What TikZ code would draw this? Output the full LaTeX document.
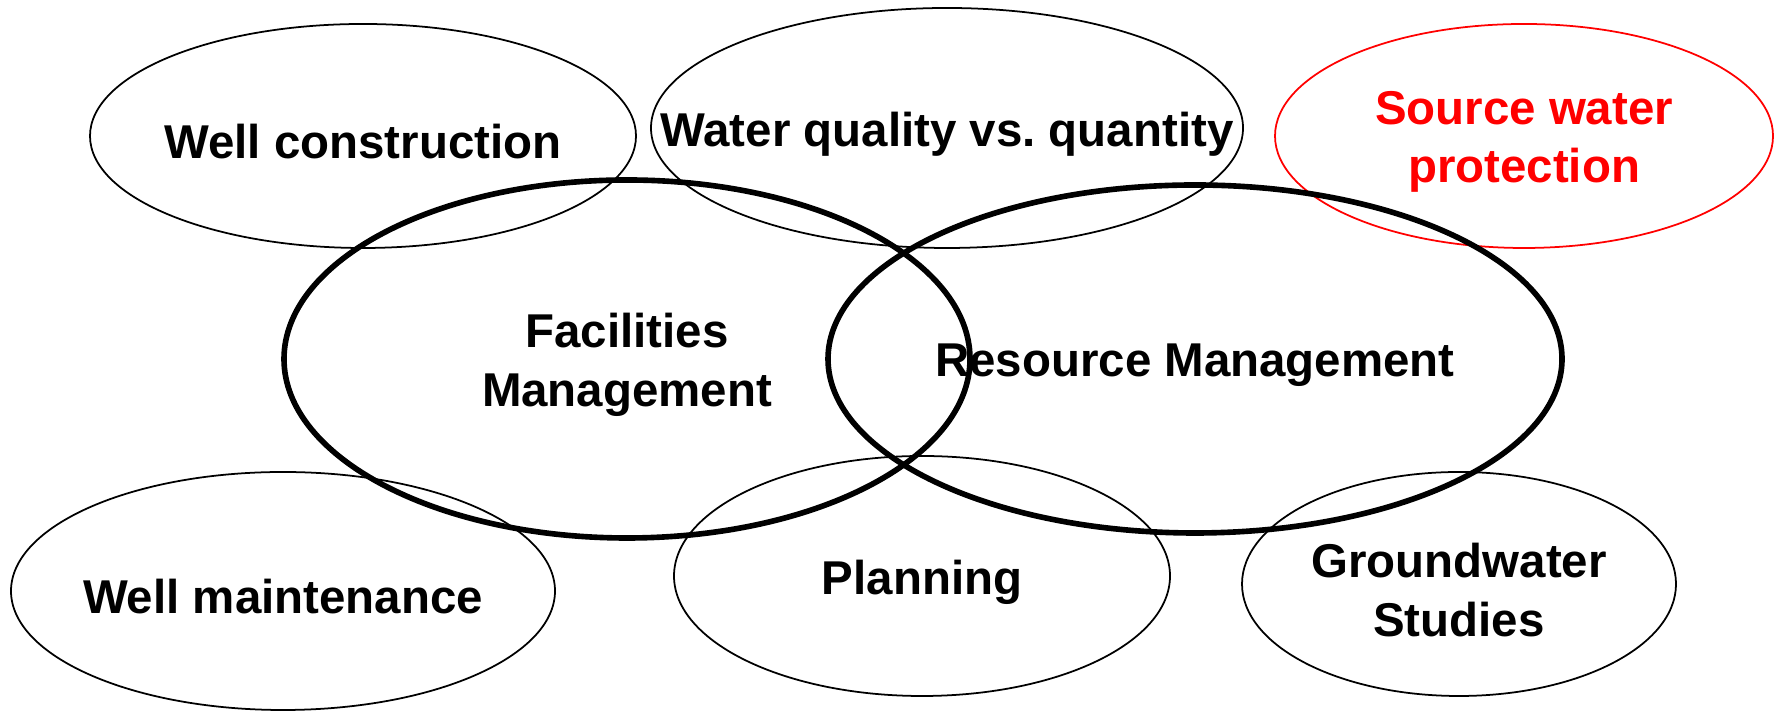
\documentclass[tikz,border=0pt]{standalone}
\usepackage{fontspec}
\setmainfont{Liberation Sans}
\usetikzlibrary{shapes.geometric}

\begin{document}
\begin{tikzpicture}[
        topic/.style={
          ellipse,
          draw,
          line width=0.5pt,
          inner sep=0pt
        },
        area/.style={
          topic,
          line width=1.6pt
        },
        every label/.style={
          align=center,
          yshift=-0.06cm,
          font=\bfseries\fontsize{13.5}{16.6}\selectfont
        }
      ]
        \useasboundingbox (0,0) rectangle (17.79,7.11);

        % surrounding topics
        \node[topic,minimum width=5.46cm,minimum height=2.24cm,label=center:Well construction] (wc) at (3.63,5.75) {};
        \node[topic,minimum width=5.92cm,minimum height=2.40cm,label=center:Water quality vs.\ quantity] (wq) at (9.47,5.83) {};
        \node[topic,draw=red,minimum width=4.98cm,minimum height=2.24cm,label={[text=red]center:Source water\\protection}] (swp) at (15.24,5.75) {};
        \node[topic,minimum width=5.44cm,minimum height=2.38cm,label=center:Well maintenance] (wm) at (2.83,1.20) {};
        \node[topic,minimum width=4.96cm,minimum height=2.40cm,label=center:Planning] (pl) at (9.22,1.35) {};
        \node[topic,minimum width=4.34cm,minimum height=2.24cm,label=center:Groundwater\\Studies] (gs) at (14.59,1.27) {};

        % the two management areas
        \node[area,minimum width=6.86cm,minimum height=3.58cm,label=center:Facilities\\Management] (fm) at (6.27,3.52) {};
        \node[area,minimum width=7.34cm,minimum height=3.48cm,label=center:Resource Management] (rm) at (11.95,3.52) {};
      \end{tikzpicture}
\end{document}
